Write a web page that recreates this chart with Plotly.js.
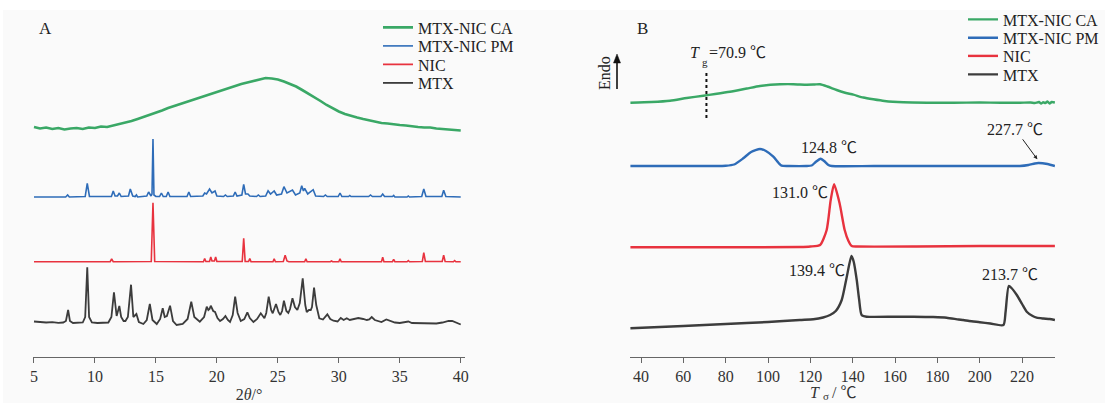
<!DOCTYPE html>
<html><head><meta charset="utf-8">
<script src="https://cdn.plot.ly/plotly-3.0.1.min.js"></script>
<style>body{margin:0;background:#fff}#chart{width:1105px;height:403px}</style>
</head><body><div id="chart"></div>
<script>
// ---------- DATA ----------
const seriesNames = ['MTX-NIC CA', 'MTX-NIC PM', 'NIC', 'MTX'];
const xrdTicks = [5, 10, 15, 20, 25, 30, 35, 40];
const dscTicks = [40, 60, 80, 100, 120, 140, 160, 180, 200, 220];

// XRD patterns: [2theta, offset intensity]
const xrdCA = [[5.0,230],[5.5,228.5],[6.0,229.5],[6.5,228],[7.0,229],[7.5,227.5],[8.0,228.5],[8.5,229],[9.0,228],[9.5,229.5],[10.0,229],[10.5,230.5],[11.0,230],[11.5,231.5],[12.0,232.5],[12.5,234],[13.0,236],[13.5,238],[14.0,240],[14.5,242],[15.0,244.5],[15.5,246.5],[16.0,249],[16.5,251],[17.0,253.5],[17.5,255],[18.0,257.5],[18.5,259.5],[19.0,261.5],[19.5,263],[20.0,265.5],[20.5,267],[21.0,269.5],[21.5,271],[22.0,273],[22.5,274.5],[23.0,276],[23.5,277.5],[24.0,279],[24.5,278.5],[25.0,277.5],[25.5,275.5],[26.0,273],[26.5,270.5],[27.0,267],[27.5,263.5],[28.0,259.5],[28.5,256],[29.0,252],[29.5,248.5],[30.0,245.5],[30.5,243],[31.0,241],[31.5,239.5],[32.0,238],[32.5,236.5],[33.0,235],[33.5,234],[34.0,233.5],[34.5,232.5],[35.0,232],[35.5,231.5],[36.0,230.5],[36.5,230],[37.0,229.5],[37.5,229.5],[38.0,228.5],[38.5,228],[39.0,227.5],[39.5,227.5],[40.0,226.5]];
const xrdPM = [[5.0,160],[7.6,160],[7.76,162],[7.9,160],[9.2,160.5],[9.37,173.7],[9.55,160.5],[11.35,160.5],[11.5,166],[11.65,161],[11.85,161],[12.0,164],[12.15,160.5],[12.75,161],[12.9,168],[13.1,161],[13.3,160.5],[13.4,162],[13.5,160],[14.25,161],[14.4,165],[14.6,161],[14.68,163],[14.76,218],[14.84,162],[15.0,160.5],[15.3,160.5],[15.45,164],[15.6,160.5],[15.85,160.5],[16.0,165],[16.15,160.5],[17.55,160.5],[17.7,165],[17.85,160.5],[18.85,161],[19.0,164],[19.15,163],[19.4,168],[19.6,164],[19.85,166],[20.0,161],[20.55,160.5],[20.7,162],[20.85,160.5],[21.35,161],[21.5,165],[21.65,161],[22.05,162],[22.2,172.7],[22.35,163],[22.55,163],[22.7,161],[23.25,160.5],[23.4,162],[23.55,160.5],[24.0,161],[24.2,166.3],[24.4,163],[24.7,166],[24.9,162],[25.3,163],[25.5,170.3],[25.75,164],[26.2,167],[26.45,162],[26.8,164],[26.96,171.3],[27.1,166],[27.2,168.7],[27.45,163],[27.9,167.3],[28.1,161],[28.3,161],[28.75,160.5],[28.9,162],[29.05,160.5],[29.95,160.5],[30.1,164],[30.25,160.5],[30.8,160.5],[30.9,161.5],[31.0,160.5],[32.45,160.5],[32.6,162],[32.75,160.5],[33.45,160.5],[33.6,163],[33.75,160.5],[34.4,160.5],[34.5,161.5],[34.6,160],[35.6,160],[35.7,161],[35.8,160],[36.8,160.5],[36.97,168],[37.15,160.5],[38.45,160.5],[38.6,166.7],[38.78,160.5],[40.0,160]];
const xrdNIC = [[5.0,95.3],[11.25,95.3],[11.37,98],[11.5,95.3],[14.62,95.5],[14.76,154.3],[14.9,95.5],[18.9,95.3],[19.0,98.5],[19.1,95.5],[19.4,95.5],[19.5,100],[19.6,96],[19.8,96],[19.9,100],[20.0,95.5],[22.08,95.5],[22.2,118.7],[22.32,95.5],[22.6,95.5],[22.7,98.5],[22.8,95.3],[24.6,95.3],[24.7,98.3],[24.8,95.3],[25.45,95.5],[25.6,101.7],[25.75,96],[25.9,95.3],[27.2,95.3],[27.3,98.3],[27.4,95.3],[29.3,95.3],[29.4,96],[29.5,95.3],[30.0,95.3],[30.1,98.3],[30.2,95.3],[33.5,95.3],[33.6,99.7],[33.7,95.3],[34.4,95.3],[34.5,97.7],[34.6,95.3],[35.6,95.3],[35.7,96.5],[35.8,95.3],[36.85,95.5],[36.97,104.3],[37.1,95.5],[38.48,95.5],[38.6,101.7],[38.72,95.5],[39.4,95.3],[39.5,96.5],[39.6,95.3],[40.0,95.3]];
const xrdMTX = [[5.0,35.5],[5.5,35],[6.0,34.5],[6.5,34.8],[7.0,34.2],[7.4,34.5],[7.62,36],[7.8,47],[7.95,36],[8.2,34],[8.6,34],[9.0,34.5],[9.2,40],[9.37,89.7],[9.52,40],[9.75,34.5],[10.2,34],[10.7,34],[11.1,34.5],[11.35,40],[11.56,64.7],[11.78,41],[11.88,45],[12.0,51],[12.15,40],[12.35,36],[12.5,36],[12.7,40],[12.96,72.3],[13.15,40],[13.4,43],[13.6,35],[13.97,33],[14.25,37],[14.5,53],[14.72,37],[15.07,33],[15.35,38],[15.56,48.7],[15.72,40],[15.9,41],[16.16,51.3],[16.4,36],[16.7,32],[17.2,33],[17.6,38],[17.9,55.3],[18.15,40],[18.6,35.3],[18.95,40],[19.17,50.3],[19.3,47],[19.4,48],[19.5,51.3],[19.7,46],[19.85,45],[20.05,39],[20.26,36],[20.5,38],[20.7,41],[20.9,37],[21.08,35],[21.3,42],[21.5,60.3],[21.7,44],[21.96,36],[22.25,38],[22.5,44.7],[22.7,39],[23.0,35],[23.3,38],[23.6,43.7],[23.9,38.7],[24.05,44],[24.25,60.3],[24.45,47],[24.58,43.7],[24.85,53],[25.05,45],[25.2,42],[25.35,46],[25.5,56.3],[25.7,46],[25.86,44],[26.0,48],[26.2,58.7],[26.4,50],[26.6,47],[26.8,54],[27.04,78.7],[27.25,52],[27.37,45],[27.55,47],[27.7,47],[27.8,50],[27.97,69.3],[28.15,52],[28.4,38.7],[28.7,37.5],[29.06,42.7],[29.3,38],[29.56,36.3],[29.9,35.5],[30.16,39],[30.4,37],[30.65,38.7],[30.9,37],[31.2,38],[31.6,39],[32.0,38],[32.3,37],[32.5,37.5],[32.7,40],[32.95,37],[33.2,36],[33.5,35],[33.9,37.5],[34.2,36],[34.6,34.5],[35.0,34],[35.4,34.5],[35.7,35.5],[36.0,34],[36.5,34],[37.0,33.5],[37.5,34],[38.0,33.5],[38.5,34.5],[39.0,36],[39.3,36],[39.6,34.5],[39.8,33],[40.0,32.5]];

// DSC curves: [temperature, offset heat flow]
const dscCA = [[35,254.3],[45,255],[53.7,256.3],[61.6,259],[69.4,261.3],[75,263],[82,265.3],[90,268.5],[96.2,271],[105.7,272.7],[112,272.8],[118.3,272.3],[122,272.5],[124.6,272.7],[128,270.5],[132.4,267],[136,264.5],[140.3,262.3],[145,259.5],[149.7,257.7],[155,256],[163.9,254.7],[175,254.3],[187.6,254.3],[200,254.5],[210,254.3],[219,254.3],[224,254.5],[226,254],[228,255],[229,253.5],[230,254.8],[231,254],[232,255.5],[233,253.5],[234,255],[235.5,254.5]];
const dscPM = [[35,191],[60,191],[80,191.3],[84,192.5],[88.3,198.7],[92,205],[96.2,208],[99,206],[102.5,200.3],[105,194],[106.4,191.3],[110,191],[118,191],[120.6,191.5],[122.5,195],[124.8,198.3],[126.5,196],[128.5,192],[130.1,191],[150,191],[180,191],[210,191],[219,191],[223,192],[226,193.5],[227.7,194],[232,193],[235.5,191]];
const dscNIC = [[35,109.7],[80,109.7],[115,110],[120,110.5],[124.6,112],[127.7,127],[129.6,157],[131.2,172.7],[133.8,153.7],[136.2,127],[138,116],[139.5,111],[142,110.5],[170,110.5],[200,111],[235.5,111]];
const dscMTX = [[35,28.7],[60,31],[80,33],[100,35],[115,37],[121.4,37.7],[126,39.5],[129.3,42],[132,46],[134.8,57],[137.2,80.3],[139.4,101],[140.5,95],[141.9,77],[143,58],[144.2,42],[146.6,40.3],[160,40.3],[168.6,40.3],[178,40],[184.4,39.3],[190,37.5],[192.2,37],[195,36],[200,34.8],[205,33.5],[211.2,32],[212.2,45],[213.7,71],[215,69],[217.5,62],[220,53],[222.2,45.3],[225,41],[226.9,39.3],[230,38.5],[233,38],[235.5,37]];

const tgValue = 70.9;
const peakLabels = ['124.8 ℃', '227.7 ℃', '131.0 ℃', '139.4 ℃', '213.7 ℃'];

// ---------- STYLE ----------
const colors = ['#3aa866', '#2e6cb8', '#e8323e', '#3c3c3c'];
const serif = "'Liberation Serif', 'Times New Roman', 'Noto Sans CJK SC', serif";
const W = 1105, TOP = 10, AX = 357, PH = AX - TOP;
const py = p => (AX - p) / PH;   // pixel row -> paper y
const px = p => p / W;           // pixel col -> paper x

const xrd = [xrdCA, xrdPM, xrdNIC, xrdMTX];
const dsc = [dscCA, dscPM, dscNIC, dscMTX];
const xrdWidths = [2.6, 1.6, 1.6, 1.8];
const traces = [];
xrd.forEach((s, i) => traces.push({
  x: s.map(d => d[0]), y: s.map(d => d[1]), type: 'scatter', mode: 'lines',
  name: seriesNames[i], line: {color: colors[i], width: xrdWidths[i]},
  xaxis: 'x', yaxis: 'y', legend: i === 0 ? 'legend' : 'legend' + (i + 1), hoverinfo: 'skip'
}));
dsc.forEach((s, i) => traces.push({
  x: s.map(d => d[0]), y: s.map(d => d[1]), type: 'scatter', mode: 'lines',
  name: seriesNames[i], line: {color: colors[i], width: 2.4, shape: 'spline', smoothing: 0.6},
  xaxis: 'x2', yaxis: 'y2', legend: 'legend' + (i + 5), hoverinfo: 'skip'
}));

const leftRows = [27.5, 46, 64.5, 83];
const rightRows = [19.5, 37.8, 56, 74.5];
const legendBase = {xanchor: 'left', yanchor: 'middle', bgcolor: 'rgba(0,0,0,0)', borderwidth: 0,
  font: {family: serif, size: 16, color: '#222'}};
const txt = {family: serif, size: 16, color: '#222'};
const axTxt = {family: serif, size: 16, color: '#333'};
const sub = {family: serif, size: 11, color: '#222'};
// paper-positioned text helper (explicit anchors)
const pText = (text, x, y, font, extra) => Object.assign({text, xref: 'paper', yref: 'paper', x: px(x), y: py(y),
  xanchor: 'center', yanchor: 'middle', showarrow: false, font}, extra || {});
const layout = {
  width: 1105, height: 403,
  margin: {l: 0, r: 0, t: TOP, b: 403 - AX, autoexpand: false},
  paper_bgcolor: '#ffffff', plot_bgcolor: 'rgba(0,0,0,0)',
  showlegend: true,
  xaxis: {domain: [px(33), px(465)], range: [4.92, 40.35], tickvals: xrdTicks, ticktext: xrdTicks.map(String),
    showline: true, linecolor: '#666', linewidth: 1, ticks: 'outside', ticklen: 5, tickcolor: '#666',
    showgrid: false, zeroline: false, tickfont: axTxt,
    title: {text: '2<i>θ</i>/°', font: axTxt, standoff: 4}, anchor: 'y'},
  yaxis: {range: [0, PH], visible: false, domain: [0, 1]},
  xaxis2: {domain: [px(630), px(1055)], range: [34.8, 235.55], tickvals: dscTicks, ticktext: dscTicks.map(String),
    showline: true, linecolor: '#666', linewidth: 1, ticks: 'outside', ticklen: 5, tickcolor: '#666',
    showgrid: false, zeroline: false, tickfont: axTxt, anchor: 'y2'},
  yaxis2: {range: [0, PH], visible: false, domain: [0, 1], anchor: 'x2'},
  shapes: [
    {type: 'rect', xref: 'paper', yref: 'paper', x0: px(3), x1: 1, y0: py(403), y1: py(10),
     fillcolor: '#fafafa', line: {width: 0}, layer: 'below'},
    {type: 'line', xref: 'x2', yref: 'y2', x0: tgValue, x1: tgValue, y0: 239, y1: 285,
     line: {color: '#111', width: 2, dash: 'dot'}},
    // Endo arrow (shaft + head)
    {type: 'line', xref: 'paper', yref: 'paper', x0: px(617), x1: px(617), y0: py(89), y1: py(60),
     line: {color: '#111', width: 1.6}},
    {type: 'path', xref: 'paper', yref: 'paper',
     path: `M ${px(613.5)} ${py(63)} L ${px(617)} ${py(54)} L ${px(620.5)} ${py(63)} Z`,
     fillcolor: '#111', line: {color: '#111', width: 0.5}}
  ],
  annotations: [
    pText('A', 45, 28, {family: serif, size: 17, color: '#222'}),
    pText('B', 642, 28, {family: serif, size: 17, color: '#222'}),
    pText('Endo', 605, 73, txt, {textangle: -90}),
    // T_g = 70.9 ℃ (subscript drawn as its own small text)
    pText('<i>T</i>', 702, 52, txt, {xanchor: 'right'}),
    pText('g', 704.5, 62, sub),
    pText('=70.9 ℃', 707, 52, txt, {xanchor: 'left'}),
    // DSC axis title: T_σ / ℃
    pText('<i>T</i>', 822, 392, axTxt, {xanchor: 'right'}),
    pText('σ', 826, 396, {family: serif, size: 11, color: '#333'}),
    pText('/ ℃', 830, 392, axTxt, {xanchor: 'left'}),
    {text: peakLabels[0], xref: 'x2', yref: 'y2', x: 128.8, y: 210, showarrow: false, font: txt},
    {text: peakLabels[1], xref: 'x2', yref: 'y2', x: 227.2, y: 197.7, ax: -22, ay: -30, showarrow: true,
     arrowhead: 2, arrowsize: 0.8, arrowwidth: 1, arrowcolor: '#222', font: txt},
    {text: peakLabels[2], xref: 'x2', yref: 'y2', x: 115.1, y: 165, showarrow: false, font: txt},
    {text: peakLabels[3], xref: 'x2', yref: 'y2', x: 123, y: 87, showarrow: false, font: txt},
    {text: peakLabels[4], xref: 'x2', yref: 'y2', x: 214.3, y: 83, showarrow: false, font: txt}
  ]
};
leftRows.forEach((r, i) => { layout[i === 0 ? 'legend' : 'legend' + (i + 1)] = Object.assign({x: px(378), y: py(r)}, legendBase); });
rightRows.forEach((r, i) => { layout['legend' + (i + 5)] = Object.assign({x: px(963), y: py(r)}, legendBase); });

Plotly.newPlot('chart', traces, layout, {displayModeBar: false, staticPlot: true});
</script></body></html>
